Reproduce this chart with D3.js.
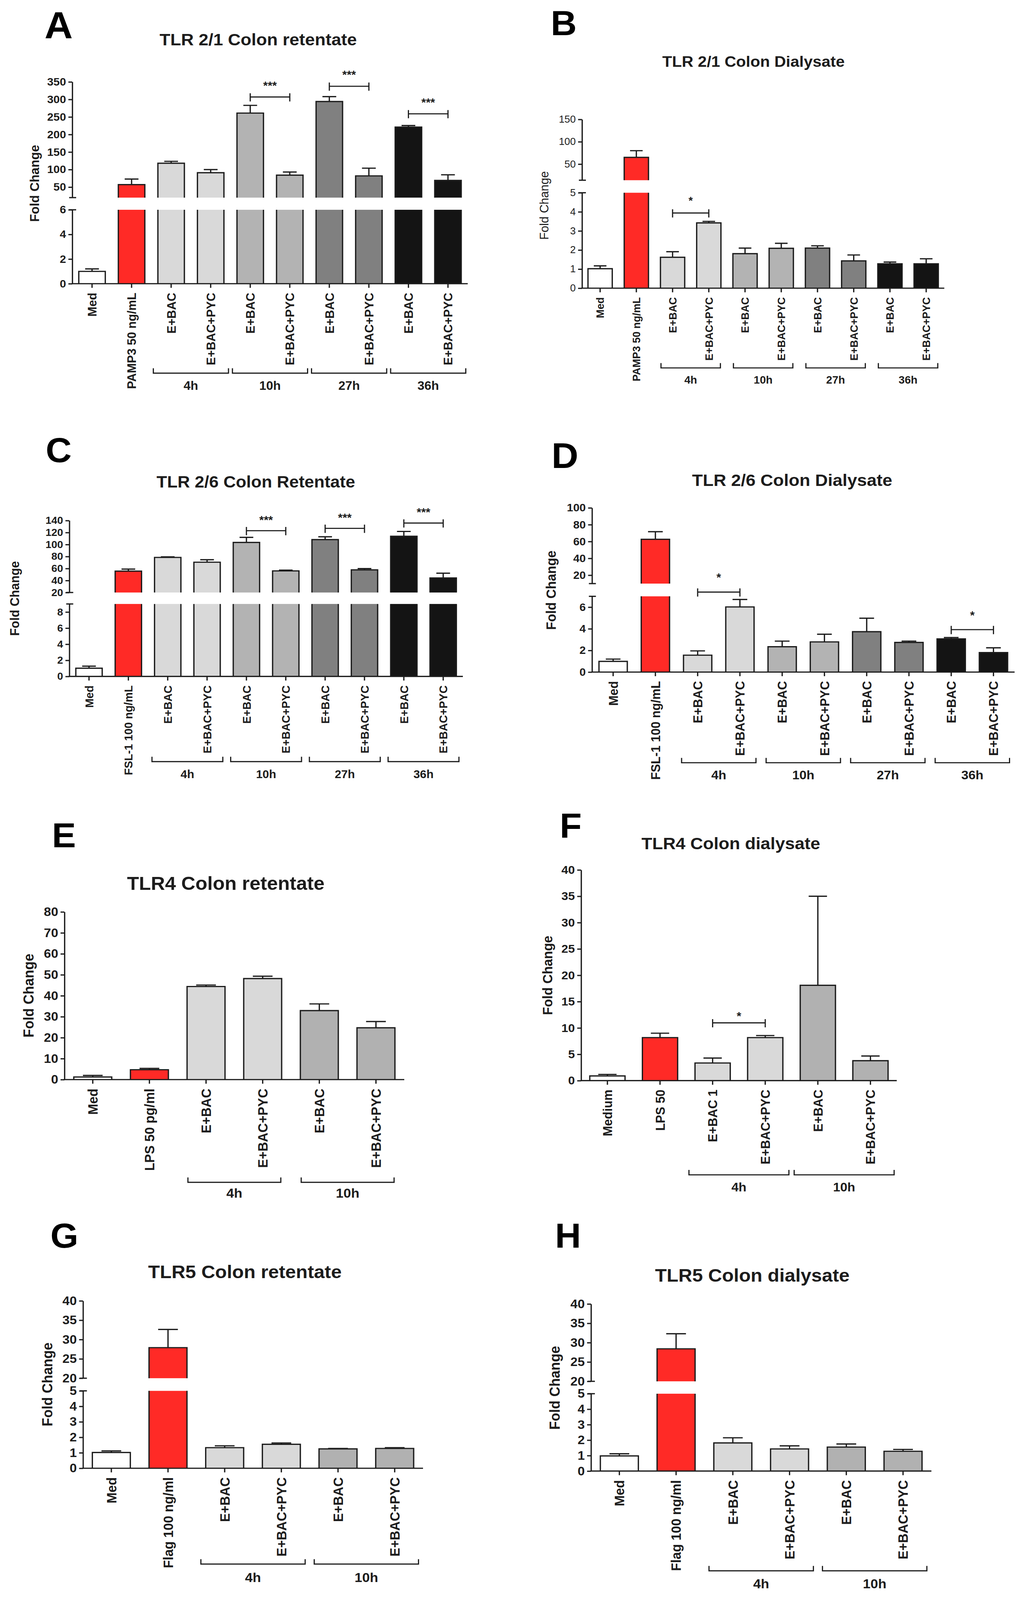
<!DOCTYPE html>
<html>
<head>
<meta charset="utf-8">
<script src="https://cdn.jsdelivr.net/npm/d3@7/dist/d3.min.js"></script>
<style>
  html, body { margin: 0; padding: 0; background: #ffffff; width: 100%; height: 100%; overflow: hidden; }
  svg { display: block; width: 100vw; height: 100vh; }
</style>
</head>
<body>
<script>
// ---------------- DATA ----------------
const labels2x = ["Med", "PAMP3 50 ng/mL", "E+BAC", "E+BAC+PYC", "E+BAC", "E+BAC+PYC", "E+BAC", "E+BAC+PYC", "E+BAC", "E+BAC+PYC"];
const labels26 = ["Med", "FSL-1 100 ng/mL", "E+BAC", "E+BAC+PYC", "E+BAC", "E+BAC+PYC", "E+BAC", "E+BAC+PYC", "E+BAC", "E+BAC+PYC"];
const labelsE = ["Med", "LPS 50 pg/ml", "E+BAC", "E+BAC+PYC", "E+BAC", "E+BAC+PYC"];
const labelsF = ["Medium", "LPS 50", "E+BAC 1", "E+BAC+PYC", "E+BAC", "E+BAC+PYC"];
const labelsGH = ["Med", "Flag 100 ng/ml", "E+BAC", "E+BAC+PYC", "E+BAC", "E+BAC+PYC"];
const groups4 = ["4h", "10h", "27h", "36h"];
const groups2 = ["4h", "10h"];

const meanA = [1.0, 57, 118, 91, 261, 84, 294, 82, 221, 69];
const errA  = [1.2, 73, 123.5, 100, 283, 93, 308, 104, 225.5, 85];
const meanB = [1.02, 65, 1.62, 3.42, 1.81, 2.09, 2.1, 1.43, 1.28, 1.28];
const errB  = [1.17, 80, 1.91, 3.5, 2.1, 2.35, 2.22, 1.74, 1.37, 1.54];
const meanC = [1.02, 55.6, 78.5, 70.5, 103.5, 56, 108.2, 57.7, 113.7, 44.2];
const errC  = [1.27, 59, 79.4, 74.7, 112, 57.3, 112.9, 59.9, 121.8, 52.2];
const meanD = [0.99, 62.6, 1.56, 6.02, 2.34, 2.79, 3.73, 2.74, 3.07, 1.8];
const errD  = [1.2, 71.7, 1.96, 6.71, 2.86, 3.5, 4.98, 2.86, 3.19, 2.24];
const meanE = [1.24, 4.7, 44.4, 48.2, 32.9, 24.7];
const errE  = [1.98, 5.32, 45.1, 49.3, 36.1, 27.7];
const meanF = [0.89, 8.17, 3.35, 8.17, 18.1, 3.79];
const errF  = [1.18, 9.0, 4.28, 8.56, 35.0, 4.67];
const meanG = [1.02, 27.9, 1.33, 1.55, 1.25, 1.28];
const errG  = [1.12, 32.6, 1.45, 1.63, 1.28, 1.33];
const meanH = [0.98, 28.4, 1.82, 1.43, 1.55, 1.28];
const errH  = [1.12, 32.3, 2.15, 1.63, 1.75, 1.4];

// significance comparisons: [barFrom, barTo, bracket level (value), segment index, stars]
const sigA = [[4, 5, 307, 1, "***"], [6, 7, 337.5, 1, "***"], [8, 9, 259, 1, "***"]];
const sigB = [[2, 3, 3.94, 0, "*"]];
const sigC = [[4, 5, 123, 1, "***"], [6, 7, 126.9, 1, "***"], [8, 9, 135.8, 1, "***"]];
const sigD = [[2, 3, 7.39, 0, "*"], [8, 9, 3.92, 0, "*"]];
const sigF = [[2, 3, 10.97, 0, "*"]];

// axis ticks
const ticksA_lo = [0, 2, 4, 6], ticksA_hi = [50, 100, 150, 200, 250, 300, 350];
const ticksB_lo = [0, 1, 2, 3, 4, 5], ticksB_hi = [50, 100, 150];
const ticksC_lo = [0, 2, 4, 6, 8], ticksC_hi = [20, 40, 60, 80, 100, 120, 140];
const ticksD_lo = [0, 2, 4, 6], ticksD_hi = [20, 40, 60, 80, 100];
const ticksE = [0, 10, 20, 30, 40, 50, 60, 70, 80];
const ticksF = [0, 5, 10, 15, 20, 25, 30, 35, 40];
const ticksGH_lo = [0, 1, 2, 3, 4, 5], ticksGH_hi = [20, 25, 30, 35, 40];

// ---------------- STYLE ----------------
const FONT = "'Liberation Sans', Arial, Helvetica, sans-serif";
const INK = "#1c1c1c";
const col10 = ["#ffffff", "#ff2a26", "#d9d9d9", "#d9d9d9", "#b3b3b3", "#b3b3b3", "#808080", "#808080", "#141414", "#141414"];
const col6 = ["#ffffff", "#ff2a26", "#d9d9d9", "#d9d9d9", "#b1b1b1", "#b1b1b1"];

const panels = [
  { letter: "A", lp: [114, 102.5], ls: 100, title: "TLR 2/1 Colon retentate", tp: [661, 121], ts: 45,
    labels: labels2x, mean: meanA, err: errA, colors: col10, groups: groups4, sig: sigA,
    xr: [185, 1197.5],
    segs: [{ dom: [0, 6], rng: [758, 560.5], ticks: ticksA_lo }, { dom: [20, 350], rng: [528, 218.8], ticks: ticksA_hi }],
    tickFs: 29, tickW: "bold", xFs: 32, fold: [87.5, 490, 34, "bold"], gy: 997, gly: 1042, gext: 0.45, starGap: 37, starFs: 30 },
  { letter: "B", lp: [1410, 93.5], ls: 92, title: "TLR 2/1 Colon Dialysate", tp: [1929, 179], ts: 41,
    labels: labels2x, mean: meanB, err: errB, colors: col10, groups: groups4, sig: sigB,
    xr: [1490, 2417.5],
    segs: [{ dom: [0, 5], rng: [770, 515], ticks: ticksB_lo }, { dom: [14, 150], rng: [481.5, 319], ticks: ticksB_hi }],
    tickFs: 26, tickW: "normal", xFs: 28, fold: [1392, 549, 32, "normal"], gy: 983, gly: 1025, gext: 0.32, starGap: 39, starFs: 28 },
  { letter: "C", lp: [117, 1235], ls: 92, title: "TLR 2/6 Colon Retentate", tp: [655, 1303], ts: 44,
    labels: labels26, mean: meanC, err: errC, colors: col10, groups: groups4, sig: sigC,
    xr: [177.5, 1185],
    segs: [{ dom: [0, 9], rng: [1807.3, 1613.7], ticks: ticksC_lo }, { dom: [20, 140], rng: [1583.1, 1390.8], ticks: ticksC_hi }],
    tickFs: 27, tickW: "bold", xFs: 30, fold: [37.5, 1599, 33, "bold"], gy: 2035, gly: 2079, gext: 0.4, starGap: 35, starFs: 30 },
  { letter: "D", lp: [1412, 1250], ls: 95, title: "TLR 2/6 Colon Dialysate", tp: [2028, 1298], ts: 45,
    labels: labels26, mean: meanD, err: errD, colors: col10, groups: groups4, sig: sigD,
    xr: [1515.6, 2597.5],
    segs: [{ dom: [0, 7], rng: [1795.7, 1593.3], ticks: ticksD_lo }, { dom: [10, 100], rng: [1559.3, 1356.9], ticks: ticksD_hi }],
    tickFs: 29, tickW: "bold", xFs: 33, fold: [1410, 1577, 35, "bold"], gy: 2038, gly: 2082, gext: 0.38, starGap: 45, starFs: 30 },
  { letter: "E", lp: [133, 2264], ls: 92, title: "TLR4 Colon retentate", tp: [578, 2378], ts: 50,
    labels: labelsE, mean: meanE, err: errE, colors: col6, groups: groups2, sig: [],
    xr: [165, 1035],
    segs: [{ dom: [0, 80], rng: [2884.5, 2436.5], ticks: ticksE }],
    tickFs: 33, tickW: "bold", xFs: 35, fold: [73, 2660, 37, "bold"], gy: 3159, gly: 3200, gext: 0.32, starGap: 30, starFs: 30 },
  { letter: "F", lp: [1433, 2239], ls: 92, title: "TLR4 Colon dialysate", tp: [1871, 2269], ts: 45,
    labels: labelsF, mean: meanF, err: errF, colors: col6, groups: groups2, sig: sigF,
    xr: [1487.7, 2295.8],
    segs: [{ dom: [0, 40], rng: [2887.3, 2324.3], ticks: ticksF }],
    tickFs: 31, tickW: "bold", xFs: 33, fold: [1401, 2606, 35, "bold"], gy: 3139, gly: 3183, gext: 0.45, starGap: 24, starFs: 30 },
  { letter: "G", lp: [129, 3334], ls: 92, title: "TLR5 Colon retentate", tp: [627, 3415], ts: 49,
    labels: labelsGH, mean: meanG, err: errG, colors: col6, groups: groups2, sig: [],
    xr: [212.5, 1083],
    segs: [{ dom: [0, 5], rng: [3923, 3716.2], ticks: ticksGH_lo }, { dom: [20, 40], rng: [3682.4, 3475.7], ticks: ticksGH_hi }],
    tickFs: 33, tickW: "bold", xFs: 35, fold: [121, 3699, 37, "bold"], gy: 4179, gly: 4227, gext: 0.42, starGap: 30, starFs: 30 },
  { letter: "H", lp: [1421, 3334], ls: 92, title: "TLR5 Colon dialysate", tp: [1926, 3424], ts: 49,
    labels: labelsGH, mean: meanH, err: errH, colors: col6, groups: groups2, sig: [],
    xr: [1513, 2384.5],
    segs: [{ dom: [0, 5], rng: [3930.5, 3723.8], ticks: ticksGH_lo }, { dom: [20, 40], rng: [3690.7, 3484], ticks: ticksGH_hi }],
    tickFs: 33, tickW: "bold", xFs: 35, fold: [1420, 3708, 37, "bold"], gy: 4197, gly: 4244, gext: 0.42, starGap: 30, starFs: 30 }
];

// ---------------- DRAW ----------------
const W = 2619, H = 4275;
const svg = d3.select("body").append("svg")
  .attr("viewBox", `0 0 ${W} ${H}`)
  .attr("preserveAspectRatio", "none")
  .style("font-family", FONT);
svg.append("rect").attr("width", W).attr("height", H).attr("fill", "#fff");

const SW = 3.3; // stroke width

panels.forEach(p => {
  const g = svg.append("g").attr("class", "panel-" + p.letter);
  const n = p.mean.length;

  // letter + title
  g.append("text").attr("x", p.lp[0]).attr("y", p.lp[1])
    .attr("font-size", p.ls).attr("font-weight", "bold").attr("fill", "#000").text(p.letter);
  g.append("text").attr("x", p.tp[0]).attr("y", p.tp[1]).attr("text-anchor", "middle")
    .attr("font-size", p.ts).attr("font-weight", "bold").attr("fill", INK).text(p.title);

  // scales
  const x = d3.scaleBand().domain(d3.range(n)).range(p.xr).paddingInner(0.33).paddingOuter(0.165);
  const segs = p.segs.map(s => ({ ...s, y: d3.scaleLinear().domain(s.dom).range(s.rng) }));
  const base = segs[0].rng[0];

  // bars
  const bw = x.bandwidth();
  p.mean.forEach((v, i) => {
    const x0 = x(i), x1 = x(i) + bw;
    segs.forEach((s, k) => {
      const lo = s.dom[0], hi = s.dom[1];
      if (v <= lo && k > 0) return;
      const top = Math.min(v, hi);
      const yT = s.y(top), yB = s.y(lo);
      g.append("rect").attr("x", x0).attr("y", yT).attr("width", bw).attr("height", Math.max(0, yB - yT))
        .attr("fill", p.colors[i]);
      let d = `M${x0},${yB}V${yT}`;
      d += (v <= hi) ? `H${x1}V${yB}` : `M${x1},${yT}V${yB}`;
      g.append("path").attr("d", d).attr("fill", "none").attr("stroke", INK)
        .attr("stroke-width", SW).attr("stroke-linejoin", "miter");
    });
    // error bar
    const e = p.err[i];
    const s = segs.find(s => v >= s.dom[0] && v <= s.dom[1]) || segs[segs.length - 1];
    const cx = x0 + bw / 2, cw = bw * 0.52;
    g.append("path")
      .attr("d", `M${cx},${s.y(v)}V${s.y(e)}M${cx - cw / 2},${s.y(e)}H${cx + cw / 2}`)
      .attr("fill", "none").attr("stroke", INK).attr("stroke-width", SW);
  });

  // y axis segments
  segs.forEach((s, k) => {
    const ax = g.append("g").attr("transform", `translate(${p.xr[0]},0)`)
      .call(d3.axisLeft(s.y).tickValues(s.ticks).tickSize(10).tickSizeOuter(0).tickPadding(6).tickFormat(d3.format("d")));
    ax.select(".domain").attr("stroke", INK).attr("stroke-width", SW);
    ax.selectAll(".tick line").attr("stroke", INK).attr("stroke-width", SW);
    ax.selectAll(".tick text").attr("fill", INK).attr("font-size", p.tickFs).attr("font-weight", p.tickW)
      .attr("font-family", FONT);
    // break-end marks
    if (segs.length > 1) {
      const yEnd = k === 0 ? s.rng[1] : s.rng[0];
      g.append("line").attr("x1", p.xr[0] - 8).attr("x2", p.xr[0] + 10)
        .attr("y1", yEnd).attr("y2", yEnd).attr("stroke", INK).attr("stroke-width", SW);
    }
  });

  // x axis
  const xa = g.append("g").attr("transform", `translate(0,${base})`)
    .call(d3.axisBottom(x).tickSize(11).tickSizeOuter(0).tickFormat(i => p.labels[i]));
  xa.select(".domain").attr("stroke", INK).attr("stroke-width", SW).attr("d", `M${p.xr[0] - SW / 2},0H${p.xr[1]}`);
  xa.selectAll(".tick line").attr("stroke", INK).attr("stroke-width", SW);
  xa.selectAll(".tick text")
    .attr("fill", INK).attr("font-size", p.xFs).attr("font-weight", "bold").attr("font-family", FONT)
    .attr("transform", "rotate(-90)").attr("x", -24).attr("y", 0).attr("dy", "0.36em")
    .style("text-anchor", "end");

  // y-axis title
  g.append("text").attr("transform", `translate(${p.fold[0] + p.fold[2] * 0.36},${p.fold[1]}) rotate(-90)`)
    .attr("text-anchor", "middle").attr("font-size", p.fold[2]).attr("font-weight", p.fold[3])
    .attr("fill", INK).text("Fold Change");

  // group brackets
  p.groups.forEach((lab, gi) => {
    const a = 2 + gi * 2, b = a + 1;
    const step = x.step();
    const xa0 = x(a) + bw / 2 - p.gext * step, xb0 = x(b) + bw / 2 + p.gext * step;
    g.append("path").attr("d", `M${xa0},${p.gy - 13}V${p.gy}H${xb0}V${p.gy - 13}`)
      .attr("fill", "none").attr("stroke", INK).attr("stroke-width", 3);
    g.append("text").attr("x", (xa0 + xb0) / 2).attr("y", p.gly).attr("text-anchor", "middle")
      .attr("font-size", p.xFs).attr("font-weight", "bold").attr("fill", INK).text(lab);
  });

  // significance brackets
  p.sig.forEach(([a, b, lvl, si, stars]) => {
    const yy = segs[si].y(lvl);
    const xa1 = x(a) + bw / 2, xb1 = x(b) + bw / 2;
    g.append("path").attr("d", `M${xa1},${yy - 10}V${yy + 12}M${xa1},${yy}H${xb1}M${xb1},${yy - 10}V${yy + 12}`)
      .attr("fill", "none").attr("stroke", INK).attr("stroke-width", 3);
    g.append("text").attr("x", (xa1 + xb1) / 2).attr("y", yy - p.starGap + p.starFs * 0.55)
      .attr("text-anchor", "middle").attr("font-size", p.starFs).attr("font-weight", "bold")
      .attr("fill", INK).text(stars);
  });
});
</script>
</body>
</html>
